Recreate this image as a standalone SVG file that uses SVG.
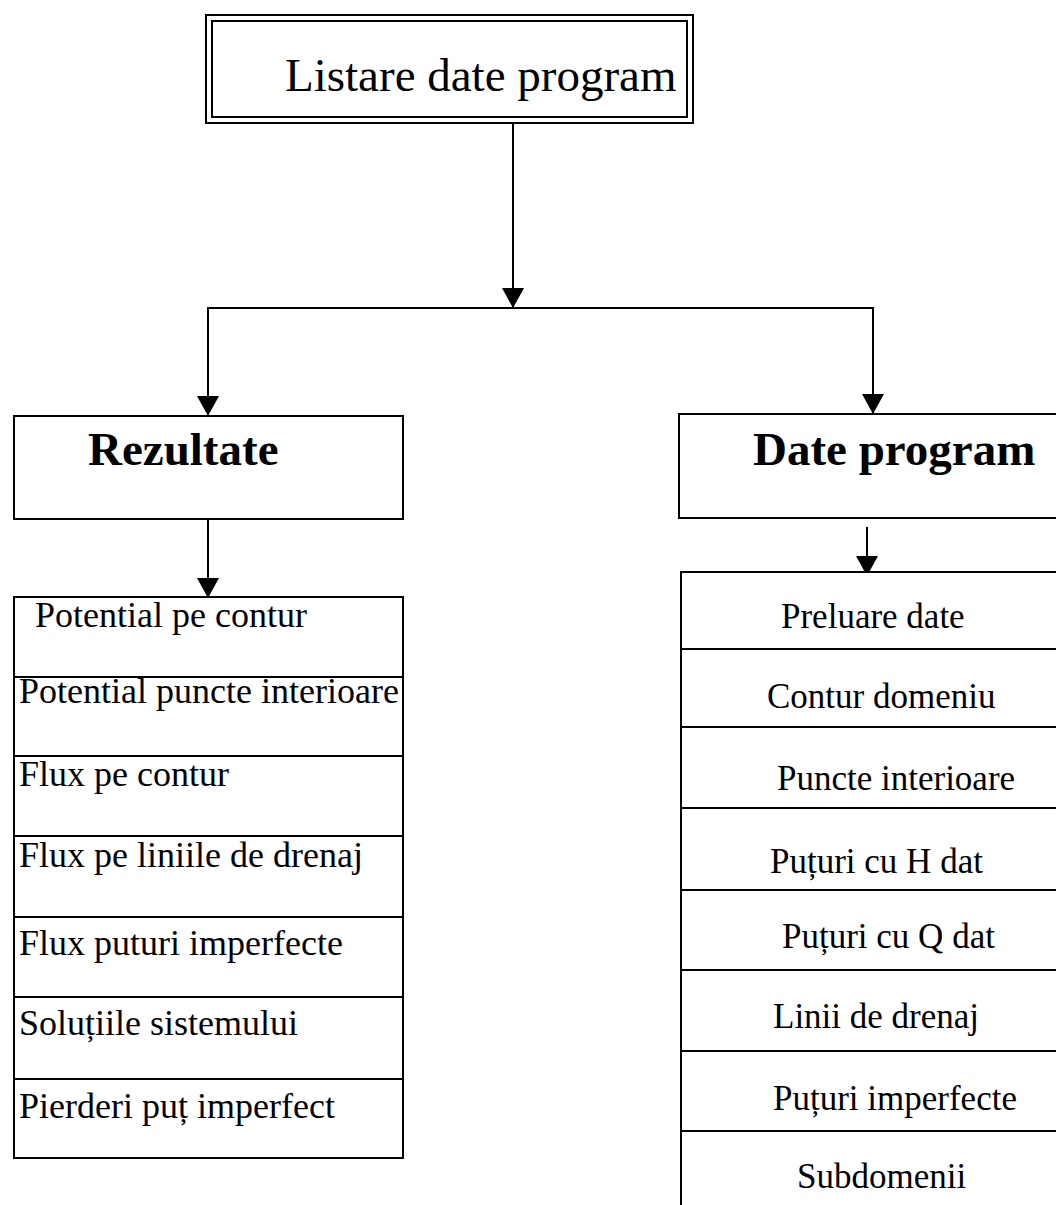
<svg xmlns="http://www.w3.org/2000/svg" width="1056" height="1205" viewBox="0 0 1056 1205">
  <style>
    .box { fill: #fff; stroke: #000; stroke-width: 2; }
    .line { fill: none; stroke: #000; stroke-width: 2; }
    .conn { fill: none; stroke: #000; stroke-width: 2; marker-end: url(#arrow); }
    .t { font-family: "Liberation Serif", "Times New Roman", serif; fill: #000; }
    .title { font-size: 47px; }
    .head { font-size: 47px; font-weight: bold; }
    .item { font-size: 35px; }
    .iteml { font-size: 36px; }
  </style>
  <defs>
    <marker id="arrow" viewBox="0 0 20 22" refX="20" refY="11" markerWidth="20" markerHeight="22" markerUnits="userSpaceOnUse" orient="auto">
      <path d="M0,0 L20,11 L0,22 z" fill="#000"/>
    </marker>
  </defs>
  <rect width="1056" height="1205" fill="#fff"/>

  <g id="connectors">
    <line class="conn" x1="513" y1="123" x2="513" y2="308"/>
    <line class="line" x1="207" y1="308" x2="874" y2="308"/>
    <line class="conn" x1="208" y1="308" x2="208" y2="416"/>
    <line class="conn" x1="873" y1="308" x2="873" y2="414"/>
    <line class="conn" x1="208" y1="519" x2="208" y2="598"/>
    <line class="conn" x1="867" y1="527" x2="867" y2="576"/>
  </g>

  <g id="node-listare">
    <rect class="box" x="206" y="15" width="487" height="108"/>
    <rect class="box" x="212" y="21" width="475" height="96"/>
    <text class="t title" x="285" y="91">Listare date program</text>
  </g>

  <g id="node-rezultate">
    <rect class="box" x="14" y="416" width="389" height="103"/>
    <text class="t head" x="88" y="465">Rezultate</text>
  </g>

  <g id="node-date-program">
    <rect class="box" x="679" y="414" width="390" height="104"/>
    <text class="t head" x="753" y="465">Date program</text>
  </g>

  <g id="node-rezultate-list">
    <rect class="box" x="14" y="597" width="389" height="561"/>
    <line class="line" x1="14" y1="677" x2="403" y2="677"/>
    <line class="line" x1="14" y1="756" x2="403" y2="756"/>
    <line class="line" x1="14" y1="836" x2="403" y2="836"/>
    <line class="line" x1="14" y1="917" x2="403" y2="917"/>
    <line class="line" x1="14" y1="997" x2="403" y2="997"/>
    <line class="line" x1="14" y1="1079" x2="403" y2="1079"/>
    <text class="t iteml" x="35" y="627">Potential pe contur</text>
    <text class="t iteml" x="19" y="703">Potential puncte interioare</text>
    <text class="t iteml" x="19" y="786">Flux pe contur</text>
    <text class="t iteml" x="19" y="867">Flux pe liniile de drenaj</text>
    <text class="t iteml" x="19" y="955">Flux puturi imperfecte</text>
    <text class="t iteml" x="19" y="1035">Soluțiile sistemului</text>
    <text class="t iteml" x="19" y="1118">Pierderi puț imperfect</text>
  </g>

  <g id="node-date-list">
    <rect class="box" x="681" y="572" width="390" height="650"/>
    <line class="line" x1="681" y1="649" x2="1071" y2="649"/>
    <line class="line" x1="681" y1="727" x2="1071" y2="727"/>
    <line class="line" x1="681" y1="808" x2="1071" y2="808"/>
    <line class="line" x1="681" y1="890" x2="1071" y2="890"/>
    <line class="line" x1="681" y1="970" x2="1071" y2="970"/>
    <line class="line" x1="681" y1="1051" x2="1071" y2="1051"/>
    <line class="line" x1="681" y1="1131" x2="1071" y2="1131"/>
    <text class="t item" x="781" y="628">Preluare date</text>
    <text class="t item" x="767" y="708">Contur domeniu</text>
    <text class="t item" x="777" y="790">Puncte interioare</text>
    <text class="t item" x="770" y="873">Puțuri cu H dat</text>
    <text class="t item" x="782" y="948">Puțuri cu Q dat</text>
    <text class="t item" x="773" y="1028">Linii de drenaj</text>
    <text class="t item" x="773" y="1110">Puțuri imperfecte</text>
    <text class="t item" x="797" y="1188">Subdomenii</text>
  </g>
</svg>
